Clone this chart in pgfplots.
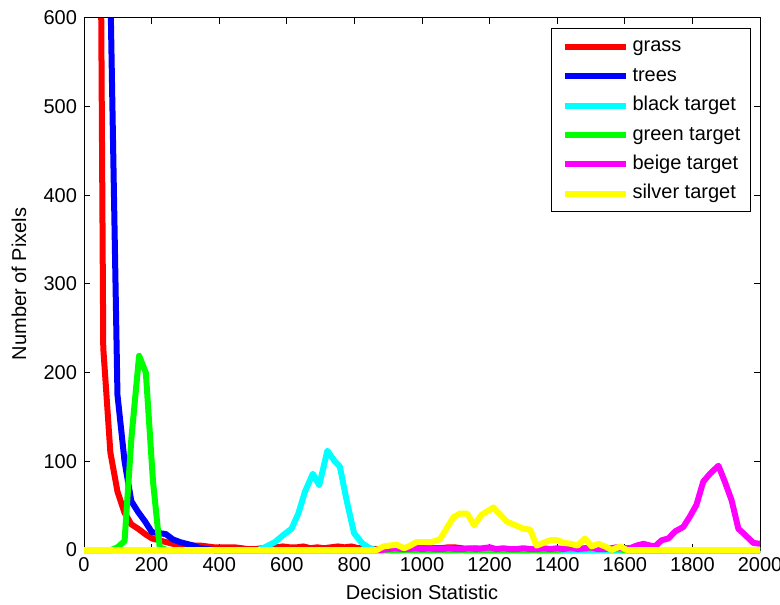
\documentclass[border=0pt]{standalone}
\usepackage{pgfplots}
\pgfplotsset{compat=1.18}
\usepackage{fontspec}
\setmainfont{Liberation Sans}
\begin{document}
\fontsize{10pt}{12pt}\selectfont
\begin{tikzpicture}
\begin{axis}[
  scale only axis, width=338pt, height=266pt,
  xmin=0, xmax=2000, ymin=0, ymax=600,
  xtick={0,200,...,2000}, ytick={0,100,...,600},
  tick align=inside, major tick length=3pt,
  tick style={black, line width=0.5pt},
  axis line style={black, line width=0.5pt},
  /pgf/number format/assume math mode=true,
  /pgf/number format/1000 sep={},
  ticklabel style={font=\fontsize{10pt}{12pt}\selectfont},
  xlabel={Decision Statistic}, ylabel={Number of Pixels},
  xlabel style={at={(axis description cs:0.5,-0.079)}, anchor=center, font=\fontsize{10pt}{12pt}\selectfont},
  ylabel style={at={(axis description cs:-0.0962,0.5)}, anchor=center, font=\fontsize{10pt}{12pt}\selectfont},
  clip=false,
  every axis plot/.append style={line width=3pt, line join=round},
  legend image code/.code={\draw[line width=3pt] (0pt,0pt) -- (30.5pt,0pt);},
  legend cell align=left,
  legend style={at={(0.9862,0.9806)}, anchor=north east, draw=black, line width=0.5pt, fill=white,
    inner xsep=4.9pt, inner ysep=4.2pt, row sep=5.2pt,
    nodes={inner sep=0pt, text height=7.3pt, text depth=2.2pt, anchor=west},
    font=\fontsize{10pt}{12pt}\selectfont,
    /tikz/every odd column/.append style={column sep=2pt}},
]
\addplot[color={rgb,255:red,255;green,0;blue,0}] coordinates {
(51,600) (57,228) (78,110) (99,66) (120,42) (140,29) (160,24) (181,18) (201,13) (222,11)
(242,9) (263,7) (283,5) (303,4) (324,5) (344,5) (365,4) (385,3) (405,3) (425,3)
(446,3) (466,2) (486,1) (507,1) (527,2) (547,3) (568,3) (588,4) (608,3) (629,3)
(649,4) (670,2) (690,3) (710,2) (730,3) (751,4) (771,3) (791,4) (812,2) (832,2)
(852,1) (873,1) (893,0) (914,0) (934,1) (955,1) (975,2) (995,4) (1016,4) (1036,2)
(1056,2) (1077,3) (1097,3) (1117,2) (1138,1) (1158,2) (1178,1) (1199,0) (2000,0)};
\addlegendentry{grass}
\addplot[color={rgb,255:red,0;green,0;blue,255}] coordinates {
(79.5,600) (99,175) (120,100) (140,55) (160,43) (181,32) (201,20) (222,19) (242,18)
(263,12) (283,9) (303,7) (324,5) (344,2) (365,1) (385,0) (2000,0)};
\addlegendentry{trees}
\addplot[color={rgb,255:red,0;green,255;blue,255}] coordinates {
(0,0) (515,0) (535,3) (565,9) (590,17) (614,24) (634,41) (654,66) (677,86) (696,73)
(720,112) (740,101) (757,94) (777,56) (799,19) (822,8) (841,3) (861,0) (2000,0)};
\addlegendentry{black target}
\addplot[color={rgb,255:red,0;green,255;blue,0}] coordinates {
(0,0) (80,0) (99,3) (120,10) (140,125) (163,219) (183,200) (204,78) (224,3) (245,0)
(1400,0) (1420,1) (1440,1) (1460,2) (1480,1) (1500,2) (1520,1) (1540,2) (1560,1)
(1580,1) (1600,0) (2000,0)};
\addlegendentry{green target}
\addplot[color={rgb,255:red,255;green,0;blue,255}] coordinates {
(0,0) (880,0) (900,1) (920,2) (940,1) (960,1) (980,2) (1000,1) (1020,2) (1040,1)
(1060,1) (1080,2) (1100,1) (1120,1) (1140,2) (1160,1) (1180,2) (1200,3) (1220,1)
(1240,2) (1260,1) (1280,1) (1300,2) (1320,1) (1340,1) (1360,2) (1380,1) (1400,2)
(1420,1) (1440,3) (1460,1) (1480,2) (1500,3) (1520,1) (1540,1) (1560,2) (1576,3)
(1595,2) (1615,2) (1635,5) (1655,7) (1675,5) (1689,4) (1709,11) (1729,13) (1749,21)
(1773,26) (1793,38) (1812,51) (1832,77) (1852,86) (1877,95) (1896,77) (1916,56)
(1936,24) (1956,17) (1980,8) (2000,7)};
\addlegendentry{beige target}
\addplot[color={rgb,255:red,255;green,255;blue,0}] coordinates {
(0,0) (866,0) (886,4) (905,5) (925,6) (947,2) (965,5) (984,9) (1006,9) (1029,9)
(1053,12) (1093,37) (1112,41) (1134,41) (1154,28) (1177,40) (1195,44) (1211,48)
(1231,40) (1251,32) (1276,28) (1300,24) (1320,23) (1339,5) (1359,8) (1379,11)
(1400,11) (1420,8) (1440,7) (1460,5) (1482,13) (1502,4) (1522,7) (1542,4) (1561,0)
(1586,4) (1606,0) (2000,0)};
\addlegendentry{silver target}
\end{axis}
\pgfresetboundingbox
\path (-42pt,-27pt) rectangle (348pt,275pt);
\end{tikzpicture}
\end{document}
